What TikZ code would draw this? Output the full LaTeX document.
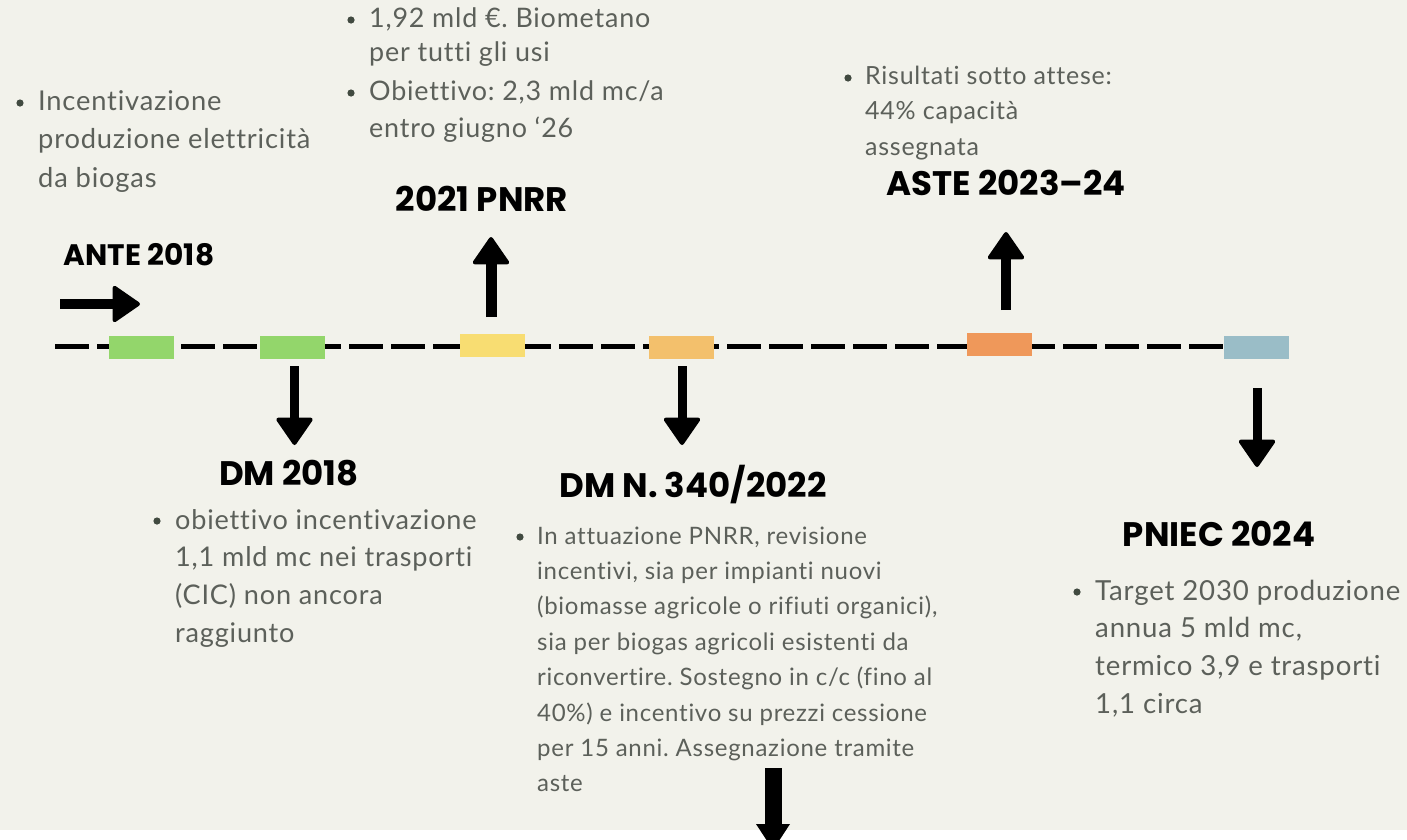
\documentclass[tikz,border=0pt]{standalone}
\usepackage{fontspec}
\setmainfont{Lato}[Ligatures=NoCommon, LetterSpace=3]
\newfontfamily\headfont{Poppins}
\usetikzlibrary{arrows.meta}
\definecolor{bgc}{HTML}{F2F2EB}
\definecolor{bodyc}{HTML}{5C605A}
\definecolor{bulc}{HTML}{414A40}
\definecolor{cgreen}{HTML}{93D66B}
\definecolor{cyellow}{HTML}{F8DD72}
\definecolor{clorange}{HTML}{F3C06C}
\definecolor{corange}{HTML}{EF985A}
\definecolor{cblue}{HTML}{9ABDC7}
\pgfdeclarelayer{bglayer}
\pgfdeclarelayer{linelayer}
\pgfsetlayers{bglayer,linelayer,main}
\frenchspacing
\tikzset{
  bar/.style={draw=none, minimum width=65pt, minimum height=23pt, inner sep=0pt},
  timeline/.style={line width=5pt, dash pattern=on 34pt off 8pt},
  head/.style={font=\headfont\bfseries\fontsize{34}{36}\selectfont, text=black, inner sep=0pt, anchor=base},
  body/.style={text=bodyc, inner sep=0pt, anchor=base west},
  bul/.style={fill=bulc},
  bigarrow/.style={line width=#1, -{Triangle[width=39pt,length=29pt,round,line width=4pt]}},
  flatarrow/.style={line width=17pt, -{Triangle[width=34pt,length=26pt,line width=0pt]}}
}
\begin{document}
\begin{tikzpicture}[x=1pt,y=-1pt]
\useasboundingbox (0,0) rectangle (1407,839);
\begin{pgfonlayer}{bglayer}
\fill[bgc] (0,0) rectangle (1407,839);
\fill[white] (0,830) rectangle (1407,839);
\end{pgfonlayer}

% timeline boxes
\node[bar, fill=cgreen]   (b1) at (141.5,347.5) {};
\node[bar, fill=cgreen]   (b2) at (292,347.5) {};
\node[bar, fill=cyellow]  (b3) at (492,345) {};
\node[bar, fill=clorange] (b4) at (681,347) {};
\node[bar, fill=corange]  (b5) at (999,344.5) {};
\node[bar, fill=cblue]    (b6) at (1256,347.5) {};
\coordinate (tstart) at (55,346.5);
\begin{pgfonlayer}{linelayer}
\draw[timeline] (tstart) -- (b6.west |- tstart);
\end{pgfonlayer}

% headings
\node[head, font=\headfont\bfseries\fontsize{29.6}{32}\selectfont] (hante) at (139,265) {ANTE 2018};
\node[head] (hpnrr) at (482,211.5) {2021 PNRR};
\node[head] (hdm18) at (289,485) {DM 2018};
\node[head] (hdm340) at (693,497.5) {DM N. 340/2022};
\node[head] (haste) at (1006,195) {ASTE 2023–24};
\node[head] (hpniec) at (1219,546) {PNIEC 2024};

% arrows
\coordinate (a1s) at (60,304);   \coordinate (a1e) at (140,304);
\coordinate (a2s) at (294.5,366); \coordinate (a2e) at (294.5,445);
\coordinate (a3s) at (491,317);  \coordinate (a3e) at (491,237);
\coordinate (a4s) at (682,366);  \coordinate (a4e) at (682,445);
\coordinate (a5s) at (1006,310); \coordinate (a5e) at (1006,232);
\coordinate (a6s) at (1257,388); \coordinate (a6e) at (1257,467);
\coordinate (a7s) at (773,768);  \coordinate (a7e) at (773,850);
\draw[bigarrow=10pt] (a1s) -- (a1e);
\draw[bigarrow=9pt] (a2s) -- (a2e);
\draw[bigarrow=11pt] (a3s) -- (a3e);
\draw[bigarrow=9pt] (a4s) -- (a4e);
\draw[bigarrow=10pt] (a5s) -- (a5e);
\draw[bigarrow=9pt] (a6s) -- (a6e);
\draw[flatarrow] (a7s) -- (a7e);

% bullets
\fill[bul] (20,103) circle (3.6pt);
\fill[bul] (351,20) circle (3.6pt);
\fill[bul] (351,93) circle (3.6pt);
\fill[bul] (848,78) circle (3.6pt);
\fill[bul] (157,521) circle (3.6pt);
\fill[bul] (520,537) circle (3.6pt);
\fill[bul] (1077,592) circle (3.6pt);

% body texts
\node[body, font=\fontsize{27.3}{38.5}\selectfont] (tante) at (38,110)
  {\begin{tabular}[t]{@{}l@{}}Incentivazione\\produzione elettricità\\da biogas\end{tabular}};
\node[body, font=\fontsize{26.9}{34}\selectfont] (tpnrr1) at (369,27)
  {\begin{tabular}[t]{@{}l@{}}1,92 mld €. Biometano\\per tutti gli usi\end{tabular}};
\node[body, font=\fontsize{26.9}{37}\selectfont] (tpnrr2) at (369,100)
  {\begin{tabular}[t]{@{}l@{}}Obiettivo: 2,3 mld mc/a\\entro giugno ‘26\end{tabular}};
\node[body, font=\fontsize{25}{35.5}\selectfont] (taste) at (865,84)
  {\begin{tabular}[t]{@{}l@{}}Risultati sotto attese:\\44\% capacità\\assegnata\end{tabular}};
\node[body, font=\fontsize{27.1}{37.7}\selectfont] (tdm18) at (175,529)
  {\begin{tabular}[t]{@{}l@{}}obiettivo incentivazione\\1,1 mld mc nei trasporti\\(CIC) non ancora\\raggiunto\end{tabular}};
\node[body, font=\fontsize{24}{35.4}\selectfont] (tdm340) at (537,544)
  {\begin{tabular}[t]{@{}l@{}}In attuazione PNRR, revisione\\incentivi, sia per impianti nuovi\\(biomasse agricole o rifiuti organici),\\sia per biogas agricoli esistenti da\\riconvertire. Sostegno in c/c (fino al\\40\%) e incentivo su prezzi cessione\\per 15 anni. Assegnazione tramite\\aste\end{tabular}};
\node[body, font=\fontsize{27.6}{37.7}\selectfont] (tpniec) at (1095,600)
  {\begin{tabular}[t]{@{}l@{}}Target 2030 produzione\\annua 5 mld mc,\\termico 3,9 e trasporti\\1,1 circa\end{tabular}};
\end{tikzpicture}
\end{document}
